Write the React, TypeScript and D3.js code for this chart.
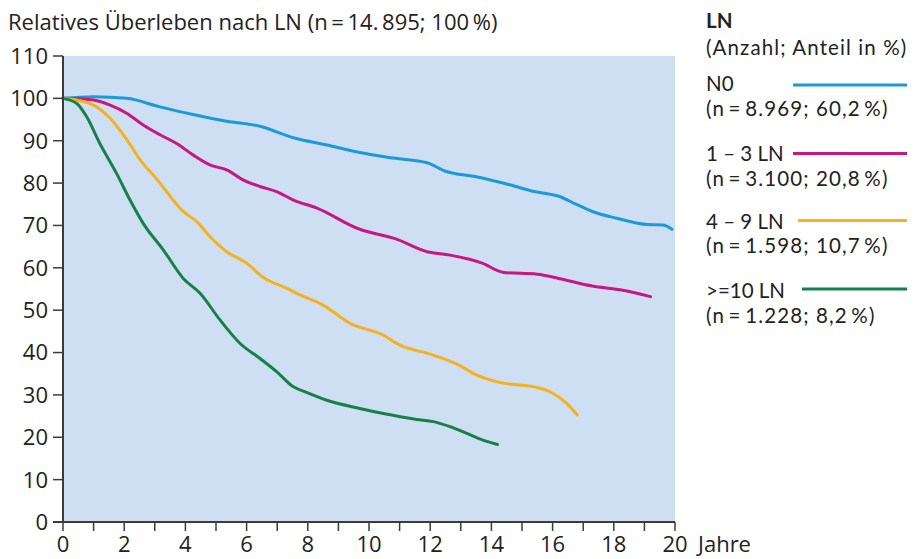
import React from "react";
import * as d3 from "d3";

const yTicks = [0, 10, 20, 30, 40, 50, 60, 70, 80, 90, 100, 110];
const xLabelTicks = [0, 2, 4, 6, 8, 10, 12, 14, 16, 18, 20];
const xMinorTicks = d3.range(0, 21);

const n0Years = [0, 1.0, 2.08, 3.17, 4.25, 5.35, 6.44, 7.53, 8.62, 9.7, 10.8, 11.9, 12.5, 13.5, 14.6, 15.4, 16.2, 16.8, 17.3, 18.1, 19.1, 19.6, 19.9];
const n0Values = [100, 100.4, 100.0, 98.0, 96.2, 94.6, 93.4, 90.7, 89.0, 87.2, 85.9, 84.8, 82.8, 81.5, 79.6, 78.0, 76.9, 74.9, 73.3, 71.7, 70.2, 70.1, 69.1];

const ln13Years = [0, 0.5, 1.0, 1.54, 2.08, 2.62, 3.17, 3.7, 4.26, 4.8, 5.35, 5.9, 6.44, 6.98, 7.53, 8.3, 9.7, 10.36, 10.8, 11.9, 12.65, 13.7, 14.4, 15.5, 16.2, 17.3, 18.2, 19.2];
const ln13Values = [100, 99.9, 99.6, 98.4, 96.5, 93.7, 91.4, 89.4, 86.6, 84.3, 83.1, 80.7, 79.2, 78.0, 76.0, 74.1, 69.1, 67.8, 67.0, 63.8, 63.0, 61.1, 58.9, 58.5, 57.5, 55.7, 54.8, 53.2];

const ln49Years = [0, 0.45, 1.0, 1.54, 2.08, 2.52, 3.06, 3.93, 4.37, 4.8, 5.35, 6.0, 6.55, 7.3, 7.75, 8.5, 9.38, 10.47, 11.0, 12.1, 13.0, 13.4, 14.3, 15.4, 15.9, 16.46, 16.8];
const ln49Values = [100, 99.6, 98.4, 95.3, 90.3, 85.5, 81.0, 73.3, 70.9, 67.4, 63.8, 61.1, 57.7, 55.2, 53.6, 51.2, 46.9, 44.1, 41.8, 39.4, 36.8, 35.1, 32.9, 31.9, 30.8, 28.0, 25.3];

const ln10Years = [0, 0.45, 0.77, 1.2, 1.75, 2.19, 2.62, 3.28, 3.93, 4.48, 5.13, 5.78, 6.44, 6.98, 7.53, 8.0, 8.6, 9.7, 10.47, 11.56, 12.1, 12.65, 13.2, 13.7, 14.2];
const ln10Values = [100, 98.8, 95.7, 89.4, 82.3, 76.0, 70.5, 64.2, 57.5, 54.0, 47.7, 42.2, 38.6, 35.5, 31.9, 30.5, 28.8, 26.8, 25.6, 24.2, 23.7, 22.5, 20.9, 19.4, 18.3];

const seriesNames = ["N0", "1 – 3 LN", "4 – 9 LN", ">=10 LN"];
const seriesSub = ["(n\u2009=\u20098.969; 60,2\u2009%)", "(n\u2009=\u20093.100; 20,8\u2009%)", "(n\u2009=\u20091.598; 10,7\u2009%)", "(n\u2009=\u20091.228; 8,2\u2009%)"];
const seriesColors = ["#1b9ad8", "#c8177f", "#f2b31c", "#178049"];
const seriesYears = [n0Years, ln13Years, ln49Years, ln10Years];
const seriesValues = [n0Values, ln13Values, ln49Values, ln10Values];

const title = "Relatives Überleben nach LN (n\u2009=\u200914.\u2009895; 100\u2009%)";
const legendTitle = "LN";
const legendSub = "(Anzahl; Anteil in %)";
const xUnit = "Jahre";

const FONT = "'Open Sans', 'Noto Sans', sans-serif";
const LEGEND_FONT = "Lato, 'Open Sans', sans-serif";

export default function App() {
  const W = 915, H = 559;
  const x = d3.scaleLinear().domain([0, 20]).range([63, 675]);
  const y = d3.scaleLinear().domain([0, 110]).range([522, 56]);
  const line = d3.line<[number, number]>()
    .x((d) => x(d[0]))
    .y((d) => y(d[1]))
    .curve(d3.curveMonotoneX);
  const axisColor = "#3b3b3b";
  const legendRows = [
    { nameY: 91, subY: 116, lineY: 85, lineX0: 793 },
    { nameY: 161, subY: 186, lineY: 153.5, lineX0: 793 },
    { nameY: 229, subY: 253, lineY: 220.5, lineX0: 798 },
    { nameY: 297.5, subY: 322.5, lineY: 289, lineX0: 802 },
  ];
  const lf = 20.5;
  return (
    <svg width={W} height={H} style={{ position: "absolute", left: 0, top: 0, background: "#fff" }} fontFamily={FONT}>
      <rect x={0} y={0} width={W} height={H} fill="#fff" />
      <text x={8} y={30} fontSize={22} fill="#222">{title}</text>
      <rect x={x(0)} y={y(110)} width={x(20) - x(0)} height={y(0) - y(110)} fill="#cfdff3" />
      {seriesNames.map((name, i) => {
        const pts: [number, number][] = seriesYears[i].map((yr, j) => [yr, seriesValues[i][j]]);
        return <path key={name} d={line(pts) || ""} fill="none" stroke={seriesColors[i]} strokeWidth={3} strokeLinejoin="round" strokeLinecap="round" />;
      })}
      {/* y axis */}
      <line x1={x(0)} x2={x(0)} y1={y(110)} y2={y(0)} stroke={axisColor} strokeWidth={2} />
      {yTicks.map((t) => (
        <g key={t}>
          <line x1={x(0) - 10} x2={x(0)} y1={y(t)} y2={y(t)} stroke={axisColor} strokeWidth={1.5} />
          <text x={48} y={y(t)} dy="0.36em" textAnchor="end" fontSize={22} fill="#222">{t}</text>
        </g>
      ))}
      {/* x axis */}
      <line x1={x(0) - 10} x2={x(20)} y1={y(0)} y2={y(0)} stroke={axisColor} strokeWidth={2} />
      {xMinorTicks.map((t) => (
        <line key={t} x1={x(t)} x2={x(t)} y1={y(0)} y2={y(0) + 9} stroke={axisColor} strokeWidth={1.5} />
      ))}
      {xLabelTicks.map((t) => (
        <text key={t} x={x(t)} y={552} textAnchor="middle" fontSize={22} fill="#222">{t}</text>
      ))}
      <text x={698} y={552} fontSize={22} fill="#222">{xUnit}</text>
      {/* legend */}
      <g fontFamily={LEGEND_FONT}>
        <text x={706} y={28} fontSize={lf} fontWeight="bold" fill="#222">{legendTitle}</text>
        <text x={706} y={55} fontSize={lf} letterSpacing={1.1} fill="#222">{legendSub}</text>
        {seriesNames.map((name, i) => (
          <g key={name}>
            <text x={706} y={legendRows[i].nameY} fontSize={lf} fill="#222">{name}</text>
            <text x={706} y={legendRows[i].subY} fontSize={lf} letterSpacing={1.1} fill="#222">{seriesSub[i]}</text>
            <line x1={legendRows[i].lineX0} x2={907} y1={legendRows[i].lineY} y2={legendRows[i].lineY} stroke={seriesColors[i]} strokeWidth={3} />
          </g>
        ))}
      </g>
    </svg>
  );
}
